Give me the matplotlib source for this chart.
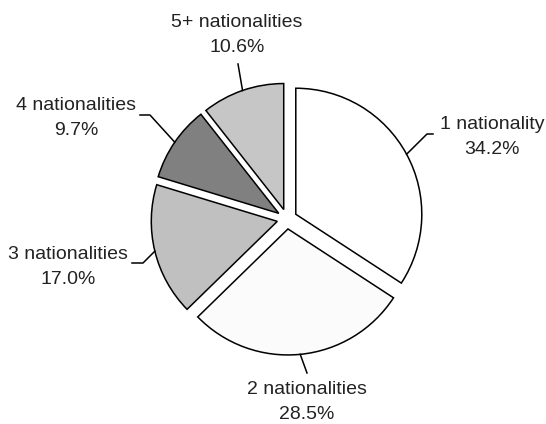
import matplotlib.pyplot as plt
import numpy as np

# data
labels = ['1 nationality', '2 nationalities', '3 nationalities', '4 nationalities', '5+ nationalities']
shares = [34.2, 28.5, 17.0, 9.7, 10.6]
colors = ['#ffffff', '#fbfbfb', '#c0c0c0', '#808080', '#c6c6c6']

# layout (pixel-like data coords, y up)
center = (287, 205)
radius = 126
gap = 10  # explode distance in data units
text_pos = [(492, 287), (307, 22), (68, 157), (76, 306), (237, 389)]
elbows = [[(427, 290), (433, 290)],
          [(307, 51)],
          [(143, 161), (132, 161)],
          [(150, 309), (140, 309)],
          [(238, 360)]]

plt.rcParams['font.family'] = ['Liberation Sans', 'DejaVu Sans']

fig = plt.figure(figsize=(5.46, 4.24), dpi=100)
ax = fig.add_axes([0, 0, 1, 1])

wedges, _ = ax.pie(shares, explode=[gap] * len(shares), colors=colors,
                   startangle=90, counterclock=False, center=center, radius=radius,
                   wedgeprops=dict(edgecolor='black', linewidth=1.1))

for w, lab, val, tp, el in zip(wedges, labels, shares, text_pos, elbows):
    mid = np.deg2rad((w.theta1 + w.theta2) / 2)
    ax0 = w.center[0] + w.r * np.cos(mid)
    ay0 = w.center[1] + w.r * np.sin(mid)
    xs = [ax0] + [p[0] for p in el]
    ys = [ay0] + [p[1] for p in el]
    ax.plot(xs, ys, color='black', linewidth=1.1)
    ax.text(tp[0], tp[1], f'{lab}\n{val:.1f}%', ha='center', va='center',
            fontsize=14, color='#222222', linespacing=1.6)

ax.set_xlim(0, 546)
ax.set_ylim(0, 424)
ax.set_aspect('equal')
ax.axis('off')

fig.savefig('out.png', dpi=100, facecolor='white')
